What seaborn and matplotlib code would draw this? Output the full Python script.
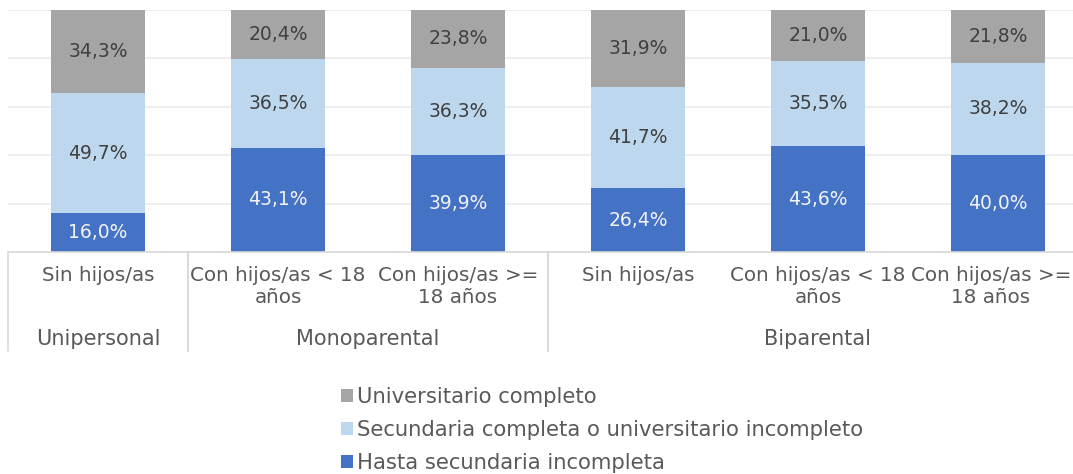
import matplotlib
matplotlib.use("Agg")
import matplotlib.pyplot as plt
import matplotlib.transforms as mtransforms
from matplotlib.patches import Patch
import numpy as np
import pandas as pd
import seaborn as sns

# ---- data ----
groups = ["Unipersonal", "Monoparental", "Monoparental", "Biparental", "Biparental", "Biparental"]
subcats = ["Sin hijos/as", "Con hijos/as < 18\naños", "Con hijos/as >=\n18 años",
           "Sin hijos/as", "Con hijos/as < 18\naños", "Con hijos/as >=\n18 años"]
series_names = ["Hasta secundaria incompleta",
                "Secundaria completa o universitario incompleto",
                "Universitario completo"]
hasta_sec = [16.0, 43.1, 39.9, 26.4, 43.6, 40.0]
sec_comp = [49.7, 36.5, 36.3, 41.7, 35.5, 38.2]
univ_comp = [34.3, 20.4, 23.8, 31.9, 21.0, 21.8]
colors = ["#4472C4", "#BDD7EE", "#A5A5A5"]
label_colors = ["#F2F2F2", "#404040", "#404040"]

sns.set_theme(style="white")
plt.rcParams["font.family"] = ["DejaVu Sans"]

W, H = 1073, 474
fig = plt.figure(figsize=(W / 100, H / 100), dpi=100)
ax_left, ax_bottom_px, ax_top_px = 8, 252, 10
cat_w = 180
n = len(subcats)
ax = fig.add_axes([ax_left / W, (H - ax_bottom_px) / H, n * cat_w / W, (ax_bottom_px - ax_top_px) / H])

keys = [f"{g}|{s}" for g, s in zip(groups, subcats)]
vals = [hasta_sec, sec_comp, univ_comp]
cum = np.cumsum(np.array(vals), axis=0)
bottoms = np.vstack([np.zeros(n), cum[:-1]])

# draw stacked bars (top layers first, overlapped)
for i in reversed(range(3)):
    df = pd.DataFrame({"cat": keys, "val": cum[i]})
    sns.barplot(data=df, x="cat", y="val", color=colors[i], width=0.52,
                saturation=1, ax=ax, order=keys, zorder=2, linewidth=0, edgecolor="none")

ax.set_xlim(-0.5, n - 0.5)
ax.set_ylim(0, 100)
ax.set_yticks(np.arange(0, 101, 20))
ax.yaxis.grid(True, color="#EBEBEB", linewidth=1.2, zorder=0)
ax.set_axisbelow(True)
ax.set_yticklabels([])
ax.tick_params(left=False, bottom=False, labelbottom=False)
ax.set_xticks([])
ax.set_xlabel("")
ax.set_ylabel("")
for sp in ["top", "right", "left"]:
    ax.spines[sp].set_visible(False)
ax.spines["bottom"].set_color("#D9D9D9")
ax.spines["bottom"].set_linewidth(1.2)

# value labels
for i in range(3):
    for j in range(n):
        ax.text(j, bottoms[i][j] + vals[i][j] / 2, f"{vals[i][j]:.1f}%".replace(".", ","),
                ha="center", va="center", fontsize=13.5, color=label_colors[i], zorder=5)

# multi-level category axis
trans = mtransforms.blended_transform_factory(ax.transData, ax.transAxes)
axh = ax_bottom_px - ax_top_px
sub_texts = []
for j, s in enumerate(subcats):
    t = ax.text(j, (ax_bottom_px - 266) / axh, s, transform=trans, ha="center", va="top",
                fontsize=14.3, color="#595959", linespacing=1.22, clip_on=False,
                multialignment="center")
    sub_texts.append(t)

# group labels and separators
uniq = []
for j, g in enumerate(groups):
    if not uniq or uniq[-1][0] != g:
        uniq.append([g, j, j])
    else:
        uniq[-1][2] = j
sep_y0, sep_y1 = 0, (ax_bottom_px - 351) / axh
for g, a, b in uniq:
    ax.text((a + b) / 2, (ax_bottom_px - 339) / axh, g, transform=trans, ha="center", va="center",
            fontsize=15, color="#595959", clip_on=False)
    for xx in (a - 0.5, b + 0.5):
        ax.plot([xx, xx], [sep_y0, sep_y1], transform=trans, color="#D9D9D9", lw=1.2, clip_on=False)

# legend
handles = [Patch(facecolor=colors[i], edgecolor="none") for i in reversed(range(3))]
labels = [series_names[i] for i in reversed(range(3))]
leg = fig.legend(handles, labels, loc="center", bbox_to_anchor=(602 / W, (H - 430) / H),
                 frameon=False, fontsize=15.2, handlelength=0.55, handleheight=0.55,
                 handletextpad=0.2, labelspacing=0.62, borderaxespad=0)
for t in leg.get_texts():
    t.set_color("#595959")

# keep labels inside the figure
fig.canvas.draw()
renderer = fig.canvas.get_renderer()
for t in sub_texts:
    bb = t.get_window_extent(renderer)
    if bb.x1 > W - 1:
        xdisp = W - 2
        xdata = ax.transData.inverted().transform((xdisp, 0))[0]
        t.set_x(xdata)
        t.set_ha("right")

fig.savefig("out.png", dpi=100)
